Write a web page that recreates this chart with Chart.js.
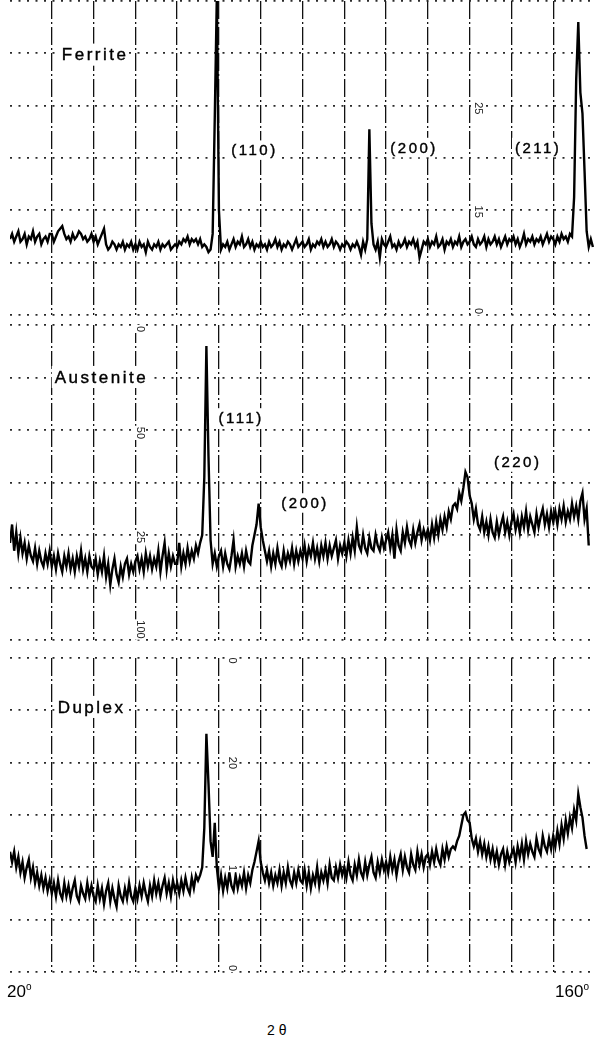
<!DOCTYPE html>
<html>
<head>
<meta charset="utf-8">
<script src="https://cdn.jsdelivr.net/npm/chart.js@4.4.1/dist/chart.umd.min.js"></script>
<style>
  html, body { margin: 0; padding: 0; background: #fff; }
  body { width: 603px; height: 1041px; position: relative; overflow: hidden;
         font-family: "Liberation Sans", Arial, sans-serif; color: #000; }
  canvas { position: absolute; left: 0; }
  .axis-text { position: absolute; font-size: 17px; line-height: 17px; white-space: nowrap; }
  .axis-text sup { font-size: 10px; vertical-align: 7px; }
</style>
</head>
<body>
<canvas id="panel-ferrite" width="603" height="320" style="top:0"></canvas>
<canvas id="panel-austenite" width="603" height="325" style="top:320px"></canvas>
<canvas id="panel-duplex" width="603" height="330" style="top:650px"></canvas>
<div class="axis-text" id="x-min" style="left:7px;top:978px">20<sup>o</sup></div>
<div class="axis-text" id="x-max" style="left:555px;top:978px">160<sup>o</sup></div>
<div class="axis-text" id="x-title" style="left:267px;top:1022px;font-size:14px">2 θ</div>

<script>
// diffractometer traces, 2θ from 20° in 0.5° steps (counts in chart divisions, 0-120)
var ANGLE_START = 20;
var ANGLE_STEP = 0.5;

var ferriteCounts = [
  29,31,28,30,32,28,29,31,27,30,29,32,28,30,31,27,29,30,28,31,
  31,28,30,32,33,34,31,29,30,28,31,29,30,32,31,29,30,28,29,31,
  28,30,27,29,31,33,27,25,26,28,27,25,27,26,28,25,27,26,28,25,
  27,25,28,26,27,24,28,26,25,27,26,28,25,27,26,27,28,25,26,27,
  26,28,27,29,28,30,27,29,28,29,27,29,26,27,26,24,25,31,75,122,
  40,25,27,26,28,25,27,29,26,28,27,30,26,27,29,26,28,25,27,26,
  28,26,27,25,28,26,27,29,26,28,25,27,26,28,27,25,27,29,26,27,
  28,26,27,29,25,27,26,28,27,29,26,28,26,27,29,26,28,27,25,27,
  26,28,27,25,27,26,28,26,23,28,25,29,71,35,27,25,28,22,29,27,
  26,28,30,26,27,25,28,26,27,29,26,28,27,29,26,28,22,25,28,27,
  29,26,28,27,30,26,27,29,25,28,27,29,26,28,27,30,26,28,29,27,
  28,30,27,26,29,27,28,30,26,29,27,28,30,27,29,26,28,30,27,29,
  28,30,27,29,26,28,31,27,29,28,30,27,29,28,30,27,29,31,28,30,
  29,27,30,28,31,29,30,28,31,30,45,90,112,85,77,55,32,26,29,26
];

var austeniteCounts = [
  37,44,34,41,33,39,33,37,31,36,32,30,35,29,34,30,28,33,29,34,
  28,32,27,33,29,26,32,28,33,27,31,26,32,28,34,27,31,26,32,28,
  27,31,25,30,26,32,24,29,21,27,31,25,22,28,24,29,31,25,29,26,
  30,32,27,31,26,33,28,32,27,31,28,34,26,32,37,27,33,28,32,29,
  29,37,28,33,29,35,30,34,31,36,33,37,40,62,112,70,38,29,33,28,
  32,34,28,33,29,27,32,38,28,32,29,33,28,34,30,29,36,40,44,52,
  43,38,34,30,34,28,33,29,35,30,28,34,29,33,30,35,29,34,30,34,
  31,36,30,35,32,37,31,35,30,36,32,37,31,36,32,35,38,31,36,33,
  37,32,38,33,39,34,43,36,34,40,35,33,39,35,34,40,36,34,39,35,
  38,41,35,40,31,42,36,34,41,37,43,38,36,42,37,41,44,38,42,39,
  42,38,44,39,45,40,46,42,47,43,49,46,51,52,50,56,53,58,64,62,
  55,52,46,50,44,42,47,41,45,40,46,41,39,45,40,44,47,41,45,40,
  45,48,42,46,41,47,43,49,42,47,44,41,48,43,47,50,44,48,43,49,
  45,49,44,50,46,51,45,49,46,52,47,51,46,53,56,46,50,36
];

var duplexCounts = [
  46,42,46,40,44,38,42,36,40,43,36,40,34,38,33,37,32,36,31,35,
  30,34,29,35,30,28,34,29,33,28,32,35,29,27,33,30,28,34,29,33,
  29,27,33,28,32,26,31,34,27,32,28,25,33,29,27,32,28,34,29,27,
  32,28,33,29,34,30,27,33,29,35,30,34,29,33,36,30,34,29,35,31,
  34,30,35,31,36,32,30,36,32,37,35,37,40,55,91,72,50,44,57,40,
  32,37,31,36,32,38,33,31,37,32,36,33,38,32,37,34,39,42,46,50,
  42,38,35,39,34,38,33,37,34,39,33,38,34,40,35,33,38,34,39,35,
  34,39,33,38,32,37,34,40,33,38,35,39,34,41,36,35,40,36,41,37,
  40,36,42,37,35,41,37,43,38,36,42,37,41,44,38,36,42,38,43,39,
  42,38,44,39,43,37,42,45,39,44,40,38,45,41,39,46,41,45,40,44,
  45,41,46,42,47,43,41,47,43,48,44,47,48,47,50,52,56,60,61,58,
  57,51,48,51,46,50,45,49,44,48,43,47,42,46,41,45,47,41,46,42,
  45,47,42,48,44,49,43,50,45,49,46,44,51,47,45,52,48,46,51,47,
  52,48,54,49,56,51,58,53,59,55,62,58,68,63,59,52,47
];

var phaseNames = ['Ferrite', 'Austenite', 'Duplex'];
var ferriteReflections = ['(110)', '(200)', '(211)'];
var austeniteReflections = ['(111)', '(200)', '(220)'];

// numbers printed on the recorder paper, read top to bottom
var ferritePaperMarks = ['25', '15', '0'];
var austenitePaperMarks = ['0', '50', '25', '100'];
var duplexPaperMarks = ['0', '20', '1', '0'];

var FONT = '"Liberation Sans", Arial, sans-serif';

function toPoints(counts) {
  return counts.map(function(c, i) { return { x: ANGLE_START + i * ANGLE_STEP, y: c }; });
}

// writes the phase name, hkl labels and the small rotated paper numbers
var paperText = {
  id: 'paperText',
  afterDraw: function(chart, args, opts) {
    var ctx = chart.ctx;
    var xs = chart.scales.x, ys = chart.scales.y;
    ctx.save();
    ctx.textBaseline = 'middle';
    ctx.textAlign = 'left';
    (opts.labels || []).forEach(function(l) {
      ctx.font = l.size + 'px ' + FONT;
      ctx.letterSpacing = l.spacing + 'px';
      var w = ctx.measureText(l.text).width - l.spacing;
      var px = xs.getPixelForValue(l.x), py = ys.getPixelForValue(l.y);
      var left = l.center ? px - w / 2 : px;
      ctx.fillStyle = '#fff';
      ctx.fillRect(left - 3, py - l.size * 0.65, w + 6, l.size * 1.3);
      ctx.fillStyle = '#000';
      ctx.strokeStyle = '#000';
      ctx.lineWidth = 0.4;
      ctx.fillText(l.text, left, py + 1);
      ctx.strokeText(l.text, left, py + 1);
    });
    ctx.letterSpacing = '0px';
    ctx.font = '11px ' + FONT;
    ctx.textAlign = 'center';
    (opts.marks || []).forEach(function(m) {
      var w = ctx.measureText(m.text).width;
      ctx.save();
      ctx.translate(xs.getPixelForValue(m.x), ys.getPixelForValue(m.y));
      ctx.rotate(Math.PI / 2);
      ctx.fillStyle = '#fff';
      ctx.fillRect(-w / 2 - 1, -5, w + 2, 10);
      ctx.fillStyle = '#222';
      ctx.fillText(m.text, 0, 0);
      ctx.restore();
    });
    ctx.restore();
  }
};

function makePanel(id, counts, padding, labels, marks) {
  return new Chart(document.getElementById(id), {
    type: 'line',
    data: {
      datasets: [{
        data: toPoints(counts),
        borderColor: '#000',
        borderWidth: 2.4,
        pointRadius: 0,
        tension: 0,
        fill: false
      }]
    },
    options: {
      responsive: false,
      animation: false,
      events: [],
      layout: { padding: padding },
      plugins: {
        legend: { display: false },
        tooltip: { enabled: false },
        paperText: { labels: labels, marks: marks }
      },
      scales: {
        x: {
          type: 'linear', min: 20, max: 160,
          ticks: { display: false, stepSize: 10 },
          grid: {
            drawTicks: false, lineWidth: 1.3,
            color: function(c) {
              var v = c.tick ? c.tick.value : 0;
              return (v === 20 || v === 160) ? 'rgba(0,0,0,0)' : '#111';
            }
          },
          border: { display: false, dash: [18, 3, 2, 3] }
        },
        y: {
          type: 'linear', min: 0, max: 120,
          ticks: { display: false, stepSize: 20 },
          grid: { drawTicks: false, lineWidth: 1.8, color: '#2a2a2a' },
          border: { display: false, dash: [2, 6.5] }
        }
      }
    },
    plugins: [paperText]
  });
}

makePanel('panel-ferrite', ferriteCounts, { top: 1, bottom: 5, left: 10, right: 8 }, [
  { text: phaseNames[0], x: 32.4, y: 99.5, size: 17, spacing: 2.5 },
  { text: ferriteReflections[0], x: 78.2, y: 63, size: 15, spacing: 2.5, center: true },
  { text: ferriteReflections[1], x: 116.4, y: 64, size: 15, spacing: 2.5, center: true },
  { text: ferriteReflections[2], x: 146.1, y: 64, size: 15, spacing: 2.5, center: true }
], [
  { text: ferritePaperMarks[0], x: 131.9, y: 79 },
  { text: ferritePaperMarks[1], x: 131.9, y: 39.5 },
  { text: ferritePaperMarks[2], x: 131.9, y: 1.5 }
]);

makePanel('panel-austenite', austeniteCounts, { top: 5, bottom: 5, left: 10, right: 8 }, [
  { text: phaseNames[1], x: 30.7, y: 100.2, size: 17, spacing: 2.5 },
  { text: austeniteReflections[0], x: 75, y: 84.6, size: 15, spacing: 2.5, center: true },
  { text: austeniteReflections[1], x: 90.3, y: 52.2, size: 15, spacing: 2.5, center: true },
  { text: austeniteReflections[2], x: 141.2, y: 67.8, size: 15, spacing: 2.5, center: true }
], [
  { text: austenitePaperMarks[0], x: 51.1, y: 118.5 },
  { text: austenitePaperMarks[1], x: 51.1, y: 78.9 },
  { text: austenitePaperMarks[2], x: 51.1, y: 39.2 },
  { text: austenitePaperMarks[3], x: 51.1, y: 4 }
]);

makePanel('panel-duplex', duplexCounts, { top: 8, bottom: 8, left: 10, right: 8 }, [
  { text: phaseNames[2], x: 31.4, y: 101.3, size: 17, spacing: 2.5 }
], [
  { text: duplexPaperMarks[0], x: 73.1, y: 119 },
  { text: duplexPaperMarks[1], x: 73.1, y: 79.9 },
  { text: duplexPaperMarks[2], x: 73.1, y: 39.7 },
  { text: duplexPaperMarks[3], x: 73.1, y: 1.5 }
]);
</script>
</body>
</html>
